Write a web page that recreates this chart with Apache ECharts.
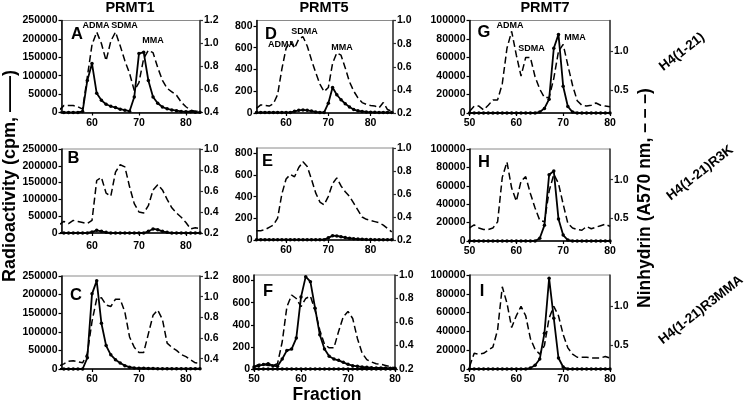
<!DOCTYPE html>
<html><head><meta charset="utf-8">
<script src="https://cdn.jsdelivr.net/npm/echarts@6/dist/echarts.min.js"></script>
<style>html,body{margin:0;padding:0;background:#fff}#c{width:745px;height:404px}</style>
</head><body><div id="c"></div>
<script>
// ---------- DATA ----------
const fractions53to83 = [53,54,55,56,57,58,59,60,61,62,63,64,65,66,67,68,69,70,71,72,73,74,75,76,77,78,79,80,81,82,83];
const fractions53to85 = [53,54,55,56,57,58,59,60,61,62,63,64,65,66,67,68,69,70,71,72,73,74,75,76,77,78,79,80,81,82,83,84,85];
const fractions50to80 = [50,51,52,53,54,55,56,57,58,59,60,61,62,63,64,65,66,67,68,69,70,71,72,73,74,75,76,77,78,79,80];

// PRMT1 (cpm, left axis) / ninhydrin (A570, right axis)
const radioA = [0,0,0,0,0,3000,87000,133000,52000,33000,22500,17000,13500,9000,6300,3600,42000,160000,164000,87000,42000,25000,15000,10000,7000,5000,3000,2000,2000,1000,500];
const ninA   = [0.42,0.46,0.46,0.46,0.45,0.43,0.71,0.99,1.10,1.00,0.85,1.02,1.10,0.98,0.85,0.74,0.59,0.66,0.87,0.94,0.92,0.79,0.68,0.61,0.58,0.55,0.49,0.45,0.42,0.41,0.41];
const radioB = [0,0,0,0,0,0,0,3000,8000,5000,2000,0,0,0,0,0,0,0,0,5000,12000,10000,5000,2000,0,0,0,0,0,0,0];
const ninB   = [0.28,0.31,0.29,0.32,0.31,0.30,0.29,0.32,0.70,0.73,0.58,0.55,0.78,0.85,0.83,0.64,0.48,0.40,0.39,0.46,0.61,0.66,0.61,0.52,0.44,0.39,0.35,0.30,0.24,0.25,0.24];
const radioC = [0,0,0,0,0,0,30000,202000,237000,123000,63000,38000,25000,16000,9000,5000,3000,2000,2000,1500,1500,1000,1000,1000,1000,1000,1000,1000,1000,1000,1000];
const ninC   = [0.33,0.35,0.375,0.38,0.37,0.36,0.45,0.76,0.98,0.99,0.92,0.905,0.975,0.975,0.85,0.61,0.51,0.46,0.46,0.64,0.82,0.87,0.78,0.55,0.51,0.48,0.44,0.42,0.39,0.36,0.355];

// PRMT5
const radioD = [5,5,5,5,5,5,5,5,5,15,25,28,25,18,10,5,5,90,235,168,122,86,55,32,20,14,10,8,6,5,5,5,5];
const ninD   = [0.24,0.27,0.265,0.26,0.28,0.36,0.58,0.76,0.82,0.76,0.84,0.86,0.78,0.66,0.55,0.45,0.385,0.42,0.63,0.72,0.70,0.59,0.47,0.39,0.33,0.29,0.275,0.265,0.26,0.245,0.29,0.23,0.215];
const radioE = [3,3,3,3,3,3,3,3,3,3,3,3,3,3,3,3,3,20,40,38,30,22,16,12,9,7,5,4,3,3,3,3,3];
const ninE   = [0.28,0.28,0.29,0.31,0.33,0.39,0.60,0.73,0.77,0.75,0.83,0.88,0.84,0.73,0.61,0.53,0.505,0.58,0.69,0.74,0.67,0.62,0.58,0.52,0.46,0.40,0.38,0.37,0.36,0.35,0.33,0.30,0.27];
const radioF = [18,30,40,48,30,24,90,168,180,280,650,835,790,550,310,180,115,90,78,60,42,30,24,18,15,12,10,9,8,7,6];
const radioFControl = [0,0,0,0,0,0,0,0,0,0,0,0,0,0,0,0,0,0,0,0,0,0,0,0,0,0,0,0,0,0,0];
const ninF   = [0.22,0.24,0.24,0.23,0.23,0.245,0.43,0.73,0.83,0.80,0.73,0.80,0.82,0.70,0.53,0.41,0.38,0.38,0.52,0.645,0.69,0.63,0.46,0.335,0.28,0.26,0.245,0.24,0.23,0.22,0.21];

// PRMT7
const radioG = [0,0,0,0,0,0,0,0,0,0,0,0,0,0,0,1000,5000,15000,70000,85000,29000,7000,1000,0,0,0,0,0,0,0,0];
const ninG   = [0.22,0.29,0.29,0.24,0.30,0.37,0.37,0.58,1.04,1.26,0.95,0.68,0.92,0.92,0.67,0.51,0.40,0.40,0.65,1.00,1.09,0.82,0.56,0.36,0.30,0.29,0.30,0.33,0.30,0.29,0.28];
const radioH = [0,0,0,0,0,0,0,0,0,0,0,0,0,0,0,3000,17000,72000,76000,24000,6500,1000,0,0,0,0,0,0,0,0,0];
const ninH   = [0.37,0.41,0.37,0.35,0.35,0.37,0.45,1.03,1.23,0.89,0.72,0.98,1.04,0.82,0.63,0.47,0.45,0.85,1.07,0.95,0.68,0.43,0.37,0.35,0.34,0.39,0.36,0.38,0.40,0.42,0.39];
const radioI = [0,0,0,0,0,0,0,0,0,0,0,0,0,1000,4000,10600,38000,96500,54000,11700,2100,0,0,0,0,0,0,0,0,0,0];
const ninI   = [0.23,0.40,0.39,0.40,0.44,0.48,0.70,1.25,1.04,0.73,0.88,1.00,0.88,0.59,0.45,0.39,0.50,0.85,1.00,0.88,0.64,0.47,0.39,0.35,0.35,0.35,0.34,0.34,0.34,0.36,0.34];

// tick labels
const xTicksCol12 = [60,70,80];
const xTicks50to80 = [50,60,70,80];
const leftTicksPRMT1 = [0,50000,100000,150000,200000,250000];
const leftTicksPRMT5 = [0,200,400,600,800];
const leftTicksPRMT7 = [0,20000,40000,60000,80000,100000];
const rightTicks04to12 = [0.4,0.6,0.8,1.0,1.2];
const rightTicks02to10 = [0.2,0.4,0.6,0.8,1.0];
const rightTicksPRMT7 = [0.5,1.0];

const columnTitles = ['PRMT1','PRMT5','PRMT7'];
const rowTitles = ['H4(1-21)','H4(1-21)R3K','H4(1-21)R3MMA'];
const panelLetters = ['A','B','C','D','E','F','G','H','I'];

// ---------- PANELS ----------
const panels = [
  {id:'A', x:fractions53to83, radio:[radioA], nin:ninA, xr:[53.5,83], xt:xTicksCol12, yl:[0,250000], ylt:leftTicksPRMT1, yr:[0.4,1.2], yrt:rightTicks04to12, box:[61.5,20.5,138.5,92]},
  {id:'B', x:fractions53to83, radio:[radioB], nin:ninB, xr:[53.5,83], xt:xTicksCol12, yl:[0,250000], ylt:leftTicksPRMT1, yr:[0.2,1.0], yrt:rightTicks02to10, box:[61.5,149,138.5,84]},
  {id:'C', x:fractions53to83, radio:[radioC], nin:ninC, xr:[53.5,83], xt:xTicksCol12, yl:[0,250000], ylt:leftTicksPRMT1, yr:[0.3,1.2], yrt:rightTicks04to12, box:[61.5,276,138.5,93]},
  {id:'D', x:fractions53to85, radio:[radioD], nin:ninD, xr:[53,85.3], xt:xTicksCol12, yl:[0,850], ylt:leftTicksPRMT5, yr:[0.2,1.0], yrt:rightTicks02to10, box:[256.5,20.5,136.5,92.5]},
  {id:'E', x:fractions53to85, radio:[radioE], nin:ninE, xr:[53,85.3], xt:xTicksCol12, yl:[0,850], ylt:leftTicksPRMT5, yr:[0.2,1.0], yrt:rightTicks02to10, box:[256.5,148,136.5,92]},
  {id:'F', x:fractions50to80, radio:[radioF, radioFControl], nin:ninF, xr:[50,80], xt:xTicks50to80, yl:[0,850], ylt:leftTicksPRMT5, yr:[0.2,1.0], yrt:rightTicks02to10, box:[254,275,141,94]},
  {id:'G', x:fractions50to80, radio:[radioG], nin:ninG, xr:[50,80], xt:xTicks50to80, yl:[0,100000], ylt:leftTicksPRMT7, yr:[0.2,1.4], yrt:rightTicksPRMT7, box:[469.5,20.5,140.5,92.5]},
  {id:'H', x:fractions50to80, radio:[radioH], nin:ninH, xr:[50,80], xt:xTicks50to80, yl:[0,100000], ylt:leftTicksPRMT7, yr:[0.2,1.4], yrt:rightTicksPRMT7, box:[469.5,149,140.5,92]},
  {id:'I', x:fractions50to80, radio:[radioI], nin:ninI, xr:[50,80], xt:xTicks50to80, yl:[0,100000], ylt:leftTicksPRMT7, yr:[0.2,1.4], yrt:rightTicksPRMT7, box:[469.5,275,140.5,94]}
];

const FONT = '"Liberation Sans", Arial, Helvetica, sans-serif';
const lbl = {fontFamily: FONT, fontWeight: 'bold', fontSize: 10.5, color: '#000'};

const grid = [], xAxis = [], yAxis = [], series = [];
panels.forEach((p, i) => {
  grid.push({left: p.box[0], top: p.box[1], width: p.box[2], height: p.box[3], show: true, borderColor: '#8a8a8a', borderWidth: 1});
  xAxis.push({
    gridIndex: i, type: 'value', min: p.xr[0], max: p.xr[1],
    axisLine: {show: true, onZero: false, lineStyle: {color: '#000', width: 1.5}},
    axisTick: {show: true, length: 3, lineStyle: {color: '#000', width: 1.2}, customValues: p.xt},
    axisLabel: Object.assign({customValues: p.xt, margin: p.id === 'B' ? 8 : 5, formatter: v => String(v)}, lbl),
    splitLine: {show: false}
  });
  yAxis.push({
    gridIndex: i, type: 'value', position: 'left', min: p.yl[0], max: p.yl[1],
    axisLine: {show: true, onZero: false, lineStyle: {color: '#000', width: 1.5}},
    axisTick: {show: true, length: 3, lineStyle: {color: '#000', width: 1.2}, customValues: p.ylt},
    axisLabel: Object.assign({customValues: p.ylt, margin: 4, formatter: v => String(v)}, lbl),
    splitLine: {show: false}
  });
  yAxis.push({
    gridIndex: i, type: 'value', position: 'right', min: p.yr[0], max: p.yr[1],
    axisLine: {show: true, onZero: false, lineStyle: {color: '#333', width: 1.5}},
    axisTick: {show: true, length: 3, lineStyle: {color: '#333', width: 1.2}, customValues: p.yrt},
    axisLabel: Object.assign({customValues: p.yrt, margin: 4, formatter: v => v.toFixed(1)}, lbl),
    splitLine: {show: false}
  });
  series.push({
    type: 'line', xAxisIndex: i, yAxisIndex: 2 * i + 1, symbol: 'none', silent: true,
    data: p.x.map((f, k) => [f, p.nin[k]]),
    lineStyle: {color: '#000', width: 1.5, type: [7, 3.5]}, z: 2
  });
  p.radio.forEach(r => {
    series.push({
      type: 'line', xAxisIndex: i, yAxisIndex: 2 * i, symbol: 'circle', symbolSize: 3.5, silent: true,
      data: p.x.map((f, k) => [f, r[k]]),
      lineStyle: {color: '#000', width: 1.8}, itemStyle: {color: '#000'}, z: 3
    });
  });
});

const bold = (size) => ({fontFamily: FONT, fontWeight: 'bold', fontSize: size, fill: '#000', align: 'center', verticalAlign: 'middle'});
const txt = (s, x, y, size, rot) => ({type: 'text', x: x, y: y, rotation: rot || 0, silent: true, style: Object.assign({text: s}, bold(size))});

const graphic = [
  txt(columnTitles[0], 130, 8, 14.5),
  txt(columnTitles[1], 324, 8, 14.5),
  txt(columnTitles[2], 545, 8, 14.5),
  txt('Fraction', 327, 395, 17.5),
  txt('Radioactivity (cpm, ——)', 10, 176, 18, Math.PI / 2),
  txt('Ninhydrin (A570 nm, – – –)', 645, 198, 17.5, Math.PI / 2),
  txt(rowTitles[0], 682, 52, 13.5, 38 * Math.PI / 180),
  txt(rowTitles[1], 700, 173, 13.5, 38 * Math.PI / 180),
  txt(rowTitles[2], 701, 310, 13.5, 38 * Math.PI / 180),
  txt(panelLetters[0], 77, 34, 16.5),
  txt(panelLetters[1], 73.5, 158.5, 16.5),
  txt(panelLetters[2], 76, 295, 16.5),
  txt(panelLetters[3], 271, 34, 16.5),
  txt(panelLetters[4], 267.5, 161, 16.5),
  txt(panelLetters[5], 268, 291, 16.5),
  txt(panelLetters[6], 484, 32, 16.5),
  txt(panelLetters[7], 484, 162, 16.5),
  txt(panelLetters[8], 482, 291, 16.5),
  txt('ADMA', 96, 26, 9),
  txt('SDMA', 124.5, 26, 9),
  txt('MMA', 153, 41, 9),
  txt('ADMA', 281.5, 44.5, 9),
  txt('SDMA', 304.5, 31.5, 9),
  txt('MMA', 342, 48, 9),
  txt('ADMA', 510, 26, 9),
  txt('SDMA', 531.5, 49, 9),
  txt('MMA', 575, 38, 9)
];

const chart = echarts.init(document.getElementById('c'), null, {renderer: 'canvas', width: 745, height: 404});
chart.setOption({animation: false, backgroundColor: '#fff', grid, xAxis, yAxis, series, graphic});
</script>
</body></html>
